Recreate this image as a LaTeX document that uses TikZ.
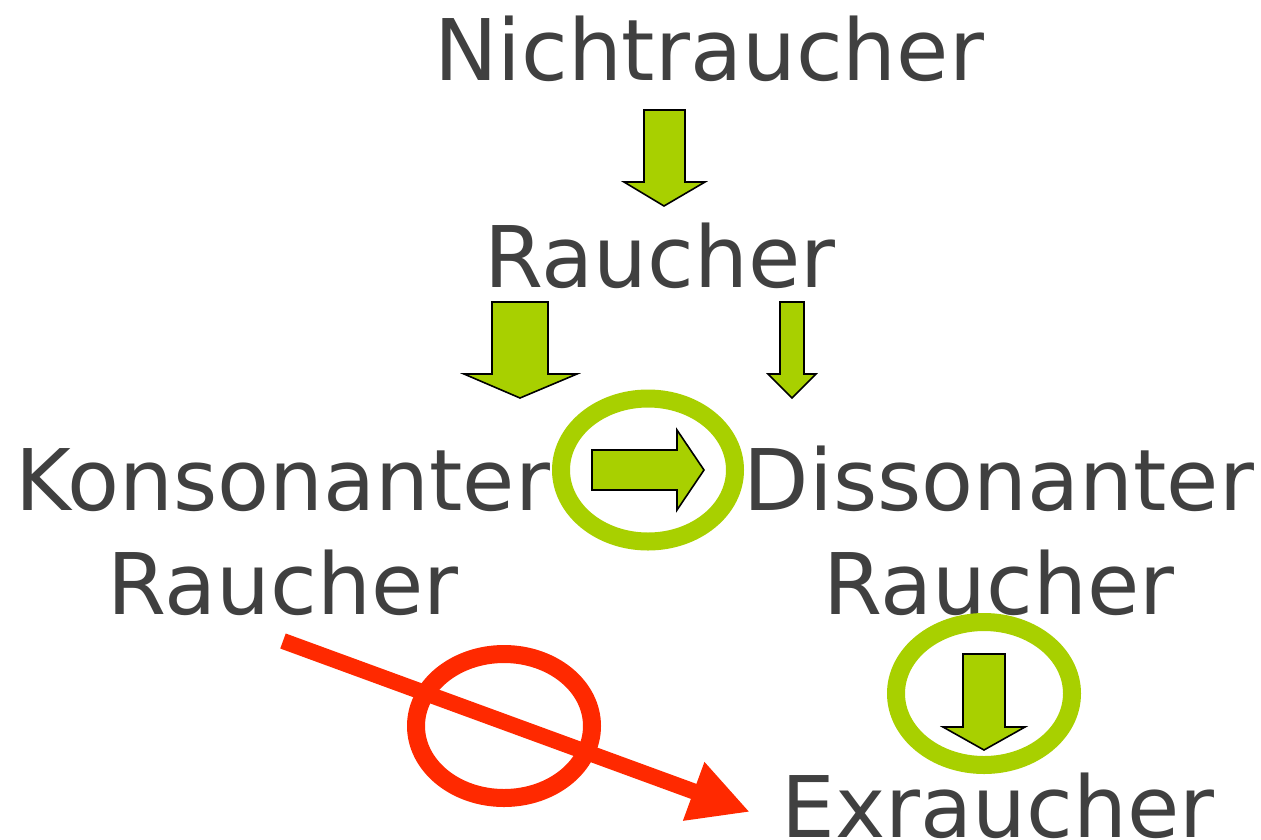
\documentclass[tikz,border=0pt]{standalone}
\usepackage{fontspec}
\setmainfont{DejaVu Sans}
\usetikzlibrary{arrows.meta}
\definecolor{leafgreen}{HTML}{A8D000}
\definecolor{signalred}{HTML}{FF2900}
\definecolor{inkgray}{HTML}{404040}
\begin{document}
\begin{tikzpicture}[x=1pt,y=-1pt,
  word/.style={text=inkgray, font=\fontsize{85}{104}\selectfont,
    inner sep=0pt, align=center, anchor=base},
  blockarrow/.style={fill=leafgreen, draw=black, line width=1.6pt, line join=miter},
  greenring/.style={draw=leafgreen, line width=18pt},
  redring/.style={draw=signalred, line width=18pt},
  quitarrow/.style={draw=signalred, line width=16pt,
    -{Triangle[length=60pt,width=58pt]}}]
  \useasboundingbox (0,0) rectangle (1261,839);

  % stages (two-line nodes are placed by the baseline of their last line)
  \node[word] (nicht) at (709,80) {Nichtraucher};
  \node[word] (raucher) at (660,287) {Raucher};
  \node[word] (kons) at (283,614) {Konsonanter\\Raucher};
  \node[word] (diss) at (999,614) {Dissonanter\\Raucher};
  \node[word] (ex) at (998,837) {Exraucher};

  % block arrows between the stages
  \draw[blockarrow] (644,110)--(685,110)--(685,182)--(705,182)--(664,206)--(624,182)--(644,182)--cycle;
  \draw[blockarrow] (492,302)--(548,302)--(548,374)--(577,374)--(520,398)--(464,374)--(492,374)--cycle;
  \draw[blockarrow] (780,302)--(804,302)--(804,374)--(816,374)--(792,398)--(768,374)--(780,374)--cycle;
  \draw[blockarrow] (592,450)--(677,450)--(677,430)--(704,470)--(677,510)--(677,490)--(592,490)--cycle;
  \draw[blockarrow] (963,654)--(1005,654)--(1005,727)--(1025,727)--(984,750)--(943,727)--(963,727)--cycle;

  % highlighted transitions
  \draw[greenring] (648,470) ellipse [x radius=87, y radius=71.5];
  \draw[greenring] (984,693.5) ellipse [x radius=88, y radius=71.5];

  % crossed-out direct path
  \draw[redring] (504,726) ellipse [x radius=88, y radius=72];
  \coordinate (quitstart) at (283,641);
  \coordinate (quitend) at (750,812);
  \draw[quitarrow] (quitstart) -- (quitend);
\end{tikzpicture}
\end{document}
